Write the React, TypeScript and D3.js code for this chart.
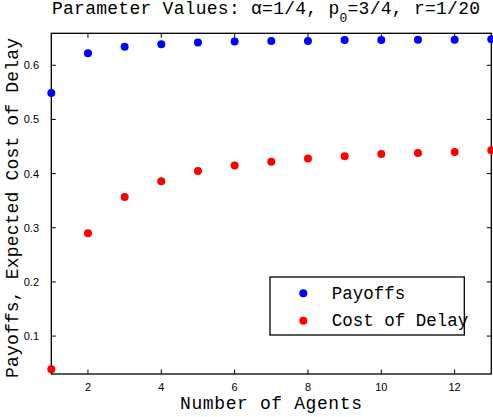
import React from "react";
import * as d3 from "d3";

const agents = [1, 2, 3, 4, 5, 6, 7, 8, 9, 10, 11, 12, 13];
const payoffs = [0.549, 0.622, 0.634, 0.639, 0.642, 0.644, 0.645, 0.645, 0.6465, 0.6465, 0.647, 0.647, 0.648];
const costOfDelay = [0.039, 0.29, 0.357, 0.386, 0.405, 0.415, 0.422, 0.428, 0.432, 0.436, 0.438, 0.44, 0.443];
const xTicks = [2, 4, 6, 8, 10, 12];
const yTicks = [0.1, 0.2, 0.3, 0.4, 0.5, 0.6];
const seriesNames = ["Payoffs", "Cost of Delay"];
const seriesColors = ["#0000ff", "#ff0000"];

const W = 493;
const H = 417;
const L = 51.3, R = 491.3, T = 33.3, B = 374;

export default function App() {
  const x = d3.scaleLinear().domain([1, 13]).range([L, R]);
  const y = d3.scaleLinear().domain([0.03, 0.659]).range([B, T]);
  const mono = "'Liberation Mono', 'Courier New', monospace";
  const sans = "'Liberation Sans', Arial, sans-serif";
  const tk = 4.5;
  const series = [payoffs, costOfDelay];
  return (
    <svg width={W} height={H} style={{ position: "absolute", left: 0, top: 0, background: "#fff" }}>
      <rect x={0} y={0} width={W} height={H} fill="#fff" />
      {/* ticks */}
      {xTicks.map((t) => (
        <g key={"xt" + t}>
          <line x1={x(t)} x2={x(t)} y1={B} y2={B - tk} stroke="#000" strokeWidth={1} />
          <line x1={x(t)} x2={x(t)} y1={T} y2={T + tk} stroke="#000" strokeWidth={1} />
          <text x={x(t)} y={391} textAnchor="middle" fontFamily={sans} fontSize={11} fill="#000">
            {t}
          </text>
        </g>
      ))}
      {yTicks.map((t) => (
        <g key={"yt" + t}>
          <line x1={L} x2={L + tk} y1={y(t)} y2={y(t)} stroke="#000" strokeWidth={1} />
          <line x1={R} x2={R - tk} y1={y(t)} y2={y(t)} stroke="#000" strokeWidth={1} />
          <text x={39} y={y(t) + 4} textAnchor="end" fontFamily={sans} fontSize={11} fill="#000">
            {d3.format(".1f")(t)}
          </text>
        </g>
      ))}
      <rect x={L} y={T} width={R - L} height={B - T} fill="none" stroke="#000" strokeWidth={1.3} />
      {/* points */}
      {series.map((s, si) =>
        s.map((v, i) => (
          <circle key={si + "-" + i} cx={x(agents[i])} cy={y(v)} r={4} fill={seriesColors[si]} />
        ))
      )}
      {/* title */}
      <text x={266} y={14} textAnchor="middle" fontFamily={mono} fontSize={18} fill="#000" textLength={428} lengthAdjust="spacing">
        Parameter Values: α=1/4, p<tspan fontSize={13} dy={8}>0</tspan><tspan dy={-8}>=3/4, r=1/20</tspan>
      </text>
      {/* x label */}
      <text x={271} y={408.5} textAnchor="middle" fontFamily={mono} fontSize={18} fill="#000" textLength={182} lengthAdjust="spacing">
        Number of Agents
      </text>
      {/* y label */}
      <text transform="translate(18,208) rotate(-90)" textAnchor="middle" fontFamily={mono} fontSize={18} fill="#000" textLength={340} lengthAdjust="spacing">
        Payoffs, Expected Cost of Delay
      </text>
      {/* legend */}
      <rect x={270} y={277} width={194.3} height={58} fill="#fff" stroke="#000" strokeWidth={1.3} />
      {seriesNames.map((n, i) => (
        <g key={n}>
          <circle cx={303.3} cy={293.3 + i * 27.4} r={4} fill={seriesColors[i]} />
          <text x={331.7} y={299.3 + i * 27} fontFamily={mono} fontSize={17.5} fill="#000">
            {n}
          </text>
        </g>
      ))}
    </svg>
  );
}
